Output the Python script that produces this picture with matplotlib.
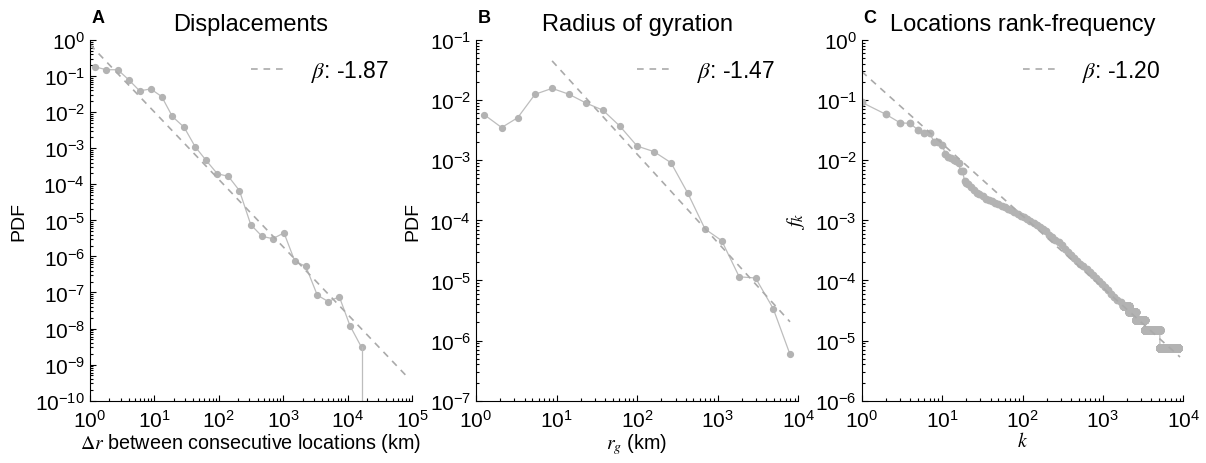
# Tres paneles log-log: desplazamientos, radio de giro y rango-frecuencia de lugares
import numpy as np
import matplotlib
matplotlib.use('Agg')
import matplotlib.pyplot as plt
from matplotlib.ticker import LogLocator, NullFormatter

plt.rcParams['font.family'] = ['Liberation Sans', 'DejaVu Sans']
plt.rcParams['mathtext.fontset'] = 'stix'
plt.rcParams['axes.unicode_minus'] = False

# --- Panel A: desplazamientos ---
disp_km = [1.2, 1.8, 2.7, 4.0, 5.9, 8.8, 13, 19, 29, 43, 63, 95, 141, 209, 314,
           470, 690, 1030, 1520, 2250, 3380, 5000, 7450, 10900, 16500]
disp_pdf = [0.18, 0.15, 0.15, 0.079, 0.039, 0.044, 0.027, 0.0076, 0.0038, 0.0011,
            4.7e-4, 1.96e-4, 1.66e-4, 6.7e-5, 7.6e-6, 3.6e-6, 3.1e-6, 4.5e-6,
            7.3e-7, 5.3e-7, 8.5e-8, 5.6e-8, 7.6e-8, 1.2e-8, 3.0e-9]
disp_beta = -1.87
disp_fit_c = 0.75
disp_fit_range = [1, 8.3e4]

# --- Panel B: radio de giro ---
rg_km = [1.27, 2.08, 3.29, 5.4, 8.8, 14.3, 23.4, 37.6, 61, 100, 162, 263, 427,
         695, 1120, 1850, 2950, 4890, 7900]
rg_pdf = [5.7e-3, 3.5e-3, 5.1e-3, 0.0125, 0.0157, 0.0125, 8.9e-3, 6.8e-3, 3.7e-3,
          1.72e-3, 1.39e-3, 9.1e-4, 2.8e-4, 7.2e-5, 4.6e-5, 1.15e-5, 1.1e-5,
          3.4e-6, 5.9e-7]
rg_beta = -1.47
rg_fit_c = 1.1
rg_fit_range = [8.8, 7900]

# --- Panel C: rango-frecuencia de lugares ---
head_rank = list(range(1, 21))
head_freq = [0.092, 0.058, 0.042, 0.041, 0.032, 0.028, 0.028, 0.020, 0.020, 0.018,
             0.0127, 0.0115, 0.0108, 0.0102, 0.0098, 0.0090, 0.0067, 0.0065,
             0.0046, 0.0042]
mid_rank = [21, 23, 25, 27, 29, 32, 35, 38, 42, 46, 50, 55, 60, 66, 72, 79, 87,
            95, 104, 114, 125, 137, 150, 164, 180, 197, 215, 235, 257, 281, 307,
            336, 367, 401, 438, 479, 523, 572, 625, 683, 746, 815, 891, 974, 1064,
            1163, 1271, 1389, 1518, 1659]
mid_freq = [0.0041, 0.0036, 0.0032, 0.0029, 0.0027, 0.0025, 0.0023, 0.00222,
            0.0021, 0.00195, 0.00186, 0.00175, 0.00166, 0.00155, 0.00146, 0.00137,
            0.00128, 0.0012, 0.00113, 0.00107, 0.00099, 0.00092, 0.00085, 0.00079,
            0.00072, 0.00066, 0.00058, 0.00053, 0.00048, 0.00043, 0.00039, 0.00034,
            0.00030, 0.00027, 0.00024, 0.00021, 0.00019, 0.000172, 0.000155,
            0.000138, 0.000123, 0.00011, 9.85e-5, 8.75e-5, 7.75e-5, 6.85e-5, 6.0e-5,
            5.3e-5, 4.75e-5, 4.3e-5]
# cola: lugares visitados 5, 4, 3, 2 y 1 veces (total de visitas N)
total_visits = 135000
tail_counts = [5, 4, 3, 2, 1]
tail_rank_start = [1800, 2100, 2550, 3300, 5100]
tail_rank_end = [2100, 2550, 3300, 5100, 8700]
loc_beta = -1.20
loc_fit_c = 0.30
loc_fit_range = [1, 9100]

marker_color = '#b3b3b3'
line_color = '#bdbdbd'
fit_color = '#aaaaaa'


def estilo_ejes(ax, xlim, ylim):
    """Ejes log-log al estilo MATLAB: sin caja, ticks hacia adentro."""
    ax.set_xscale('log')
    ax.set_yscale('log')
    ax.set_xlim(xlim)
    ax.set_ylim(ylim)
    for s in ['top', 'right']:
        ax.spines[s].set_visible(False)
    for axis in [ax.xaxis, ax.yaxis]:
        axis.set_major_locator(LogLocator(base=10, numticks=30))
        axis.set_minor_locator(LogLocator(base=10, subs=np.arange(2, 10), numticks=300))
        axis.set_minor_formatter(NullFormatter())
        axis.offsetText.set_visible(False)
    ax.tick_params(which='both', direction='in', labelsize=15, width=0.8)
    ax.tick_params(which='major', length=4)
    ax.tick_params(which='minor', length=2)
    ax.tick_params(axis='x', which='major', pad=6)


def recta_ajuste(ax, c, beta, rango):
    """Dibuja la ley de potencias c * x^beta como linea discontinua."""
    xs = np.array(rango, dtype=float)
    ax.plot(xs, c * xs ** beta, linestyle=(0, (4, 3.5)), color=fit_color, lw=1.2,
            label=r'$\beta$: %.2f' % beta)
    ax.legend(loc='center left', bbox_to_anchor=(0.5, 0.914), frameon=False,
              fontsize=16.5, borderpad=0, borderaxespad=0, handlelength=1.6,
              handletextpad=1.0)


def encabezado(ax, letra, titulo):
    ax.set_title(titulo, fontsize=17, pad=7)
    ax.text(0.004, 1.05, letra, transform=ax.transAxes, fontsize=13,
            fontweight='bold', va='baseline', ha='left')


fig = plt.figure(figsize=(12.06, 4.64), dpi=100)
ax_a = fig.add_axes([0.0746, 0.1343, 0.267, 0.7773])
ax_b = fig.add_axes([0.3947, 0.1343, 0.2672, 0.7773])
ax_c = fig.add_axes([0.7145, 0.1343, 0.2667, 0.7773])

# Panel A
estilo_ejes(ax_a, (1, 1e5), (1e-10, 1))
ax_a.plot(disp_km, disp_pdf, '-o', color=line_color, lw=0.9, ms=4.2,
          mfc=marker_color, mec=marker_color)
# ultimo bin: cae a cero, linea vertical hasta el eje
ax_a.plot([disp_km[-1], disp_km[-1]], [disp_pdf[-1], 1e-10], color=line_color, lw=0.9)
recta_ajuste(ax_a, disp_fit_c, disp_beta, disp_fit_range)
ax_a.set_xlabel(r'$\Delta r$ between consecutive locations (km)', fontsize=14.2, labelpad=0)
ax_a.set_ylabel('PDF', fontsize=14, labelpad=6)
encabezado(ax_a, 'A', 'Displacements')

# Panel B
estilo_ejes(ax_b, (1, 1e4), (1e-7, 1e-1))
ax_b.plot(rg_km, rg_pdf, '-o', color=line_color, lw=0.9, ms=4.2,
          mfc=marker_color, mec=marker_color)
recta_ajuste(ax_b, rg_fit_c, rg_beta, rg_fit_range)
ax_b.set_xlabel(r'$r_g$ (km)', fontsize=14.2, labelpad=0)
ax_b.set_ylabel('PDF', fontsize=14, labelpad=6)
encabezado(ax_b, 'B', 'Radius of gyration')

# Panel C: se expande la cola por numero de visitas
rank = list(head_rank) + list(mid_rank)
freq = list(head_freq) + list(mid_freq)
for cnt, r0, r1 in zip(tail_counts, tail_rank_start, tail_rank_end):
    rr = np.arange(r0, r1)
    rank += list(rr)
    freq += [cnt / total_visits] * len(rr)
estilo_ejes(ax_c, (1, 1e4), (1e-6, 1))
ax_c.plot(rank, freq, '-o', color=line_color, lw=0.9, ms=4.6,
          mfc=marker_color, mec=marker_color)
recta_ajuste(ax_c, loc_fit_c, loc_beta, loc_fit_range)
ax_c.set_xlabel(r'$k$', fontsize=14.2, labelpad=0)
ax_c.set_ylabel(r'$f_k$', fontsize=15, labelpad=6)
encabezado(ax_c, 'C', 'Locations rank-frequency')

fig.savefig('out.png', dpi=100)
